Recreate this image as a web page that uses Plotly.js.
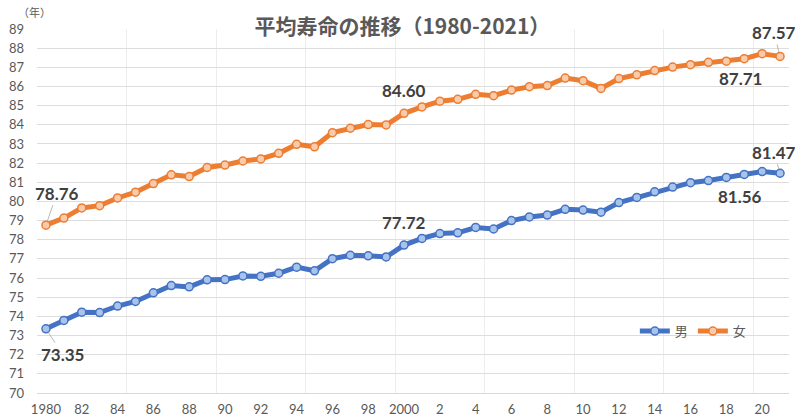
<!DOCTYPE html>
<html>
<head>
<meta charset="utf-8">
<script src="https://cdn.plot.ly/plotly-3.0.1.min.js"></script>
<style>html,body{margin:0;padding:0;background:#fff;}#chart{width:800px;height:418px;}</style>
</head>
<body>
<div id="chart"></div>
<script>
const years = [1980,1981,1982,1983,1984,1985,1986,1987,1988,1989,1990,1991,1992,1993,1994,1995,1996,1997,1998,1999,2000,2001,2002,2003,2004,2005,2006,2007,2008,2009,2010,2011,2012,2013,2014,2015,2016,2017,2018,2019,2020,2021];
const male = [73.35,73.79,74.22,74.20,74.54,74.78,75.23,75.61,75.54,75.91,75.92,76.11,76.09,76.25,76.57,76.38,77.01,77.19,77.16,77.10,77.72,78.07,78.32,78.36,78.64,78.56,79.00,79.19,79.29,79.59,79.55,79.44,79.94,80.21,80.50,80.75,80.98,81.09,81.25,81.41,81.56,81.47];
const female = [78.76,79.13,79.66,79.78,80.18,80.48,80.93,81.39,81.30,81.77,81.90,82.11,82.22,82.51,82.98,82.85,83.59,83.82,84.01,83.99,84.60,84.93,85.23,85.33,85.59,85.52,85.81,85.99,86.05,86.44,86.30,85.90,86.41,86.61,86.83,87.01,87.14,87.26,87.32,87.45,87.71,87.57];
const tickYears = [1980,1982,1984,1986,1988,1990,1992,1994,1996,1998,2000,2002,2004,2006,2008,2010,2012,2014,2016,2018,2020];
const tickText = ["1980","82","84","86","88","90","92","94","96","98","2000","2","4","6","8","10","12","14","16","18","20"];
const seriesNames = ["男","女"];
const titleText = "平均寿命の推移（1980-2021）";
const unitText = "（年）";

const idx = y => years.indexOf(y);
const lblFont = {family:"Lato, 'Noto Sans', sans-serif", size:17, color:"#404040", weight:"bold"};

const traces = [
  {x:years, y:male, name:seriesNames[0], type:"scatter", mode:"lines+markers",
   line:{color:"#4472C4", width:5},
   marker:{size:8, color:"#A9C4EB", line:{color:"#4472C4", width:1.5}}},
  {x:years, y:female, name:seriesNames[1], type:"scatter", mode:"lines+markers",
   line:{color:"#ED7D31", width:5},
   marker:{size:8, color:"#F8CBAD", line:{color:"#ED7D31", width:1.5}}}
];

function fmt(v){return v.toFixed(2);}
const arrowStyle = {showarrow:true, arrowhead:0, arrowwidth:0.8, arrowcolor:"#A6A6A6", standoff:4};
const annotations = [
  Object.assign({x:1980, y:female[idx(1980)], text:fmt(female[idx(1980)]), ax:11, ay:-32, font:lblFont}, arrowStyle),
  Object.assign({x:1980, y:male[idx(1980)], text:fmt(male[idx(1980)]), ax:17, ay:26, font:lblFont}, arrowStyle),
  {x:2000, y:female[idx(2000)], text:fmt(female[idx(2000)]), showarrow:false, yshift:23, font:lblFont},
  {x:2000, y:male[idx(2000)], text:fmt(male[idx(2000)]), showarrow:false, yshift:23, font:lblFont},
  {x:2020, y:female[idx(2020)], text:fmt(female[idx(2020)]), showarrow:false, xshift:-22, yshift:-25, font:lblFont},
  {x:2020, y:male[idx(2020)], text:fmt(male[idx(2020)]), showarrow:false, xshift:-22, yshift:-25, font:lblFont},
  Object.assign({x:2021, y:female[idx(2021)], text:fmt(female[idx(2021)]), ax:-6, ay:-24, font:lblFont}, arrowStyle),
  Object.assign({x:2021, y:male[idx(2021)], text:fmt(male[idx(2021)]), ax:-6, ay:-21, font:lblFont}, arrowStyle),
  {xref:"paper", yref:"paper", x:-0.028, y:1.048, xanchor:"left", yanchor:"middle", text:unitText, showarrow:false,
   font:{family:"'Noto Sans CJK JP', sans-serif", size:11, color:"#595959"}}
];

const layout = {
  width:800, height:418,
  margin:{l:37, r:11, t:29, b:25},
  paper_bgcolor:"#ffffff", plot_bgcolor:"#ffffff",
  font:{family:"Lato, 'Noto Sans CJK JP', sans-serif", color:"#595959"},
  title:{text:titleText, x:0.503, xanchor:"center", y:1-27/418, yanchor:"middle", yref:"container",
         font:{family:"'Noto Sans CJK JP', sans-serif", size:21, color:"#595959", weight:"bold"}},
  xaxis:{range:[1979.5, 2021.5], tickmode:"array", tickvals:tickYears, ticktext:tickText,
         showgrid:false, zeroline:false, showline:true, linecolor:"#D9D9D9", linewidth:1,
         ticks:"", tickfont:{size:13, color:"#595959"}, ticklabelstandoff:4,
         minor:{tickmode:"linear", tick0:1979.5, dtick:5, showgrid:true, gridcolor:"#EDEDED", gridwidth:1, ticklen:0}},
  yaxis:{range:[70, 89], dtick:1, tick0:70, showgrid:true, gridcolor:"#DDDDDD", gridwidth:1,
         zeroline:false, showline:false, ticks:"", tickfont:{size:13, color:"#595959"}, ticklabelstandoff:12},
  showlegend:true,
  legend:{orientation:"h", x:0.795, xanchor:"left", y:0.17, yanchor:"middle", bgcolor:"rgba(0,0,0,0)",
          font:{family:"'Noto Sans CJK JP', sans-serif", size:13, color:"#595959"}, itemwidth:30, tracegroupgap:0},
  annotations:annotations
};

Plotly.newPlot("chart", traces, layout, {displayModeBar:false, staticPlot:true});
</script>
</body>
</html>
